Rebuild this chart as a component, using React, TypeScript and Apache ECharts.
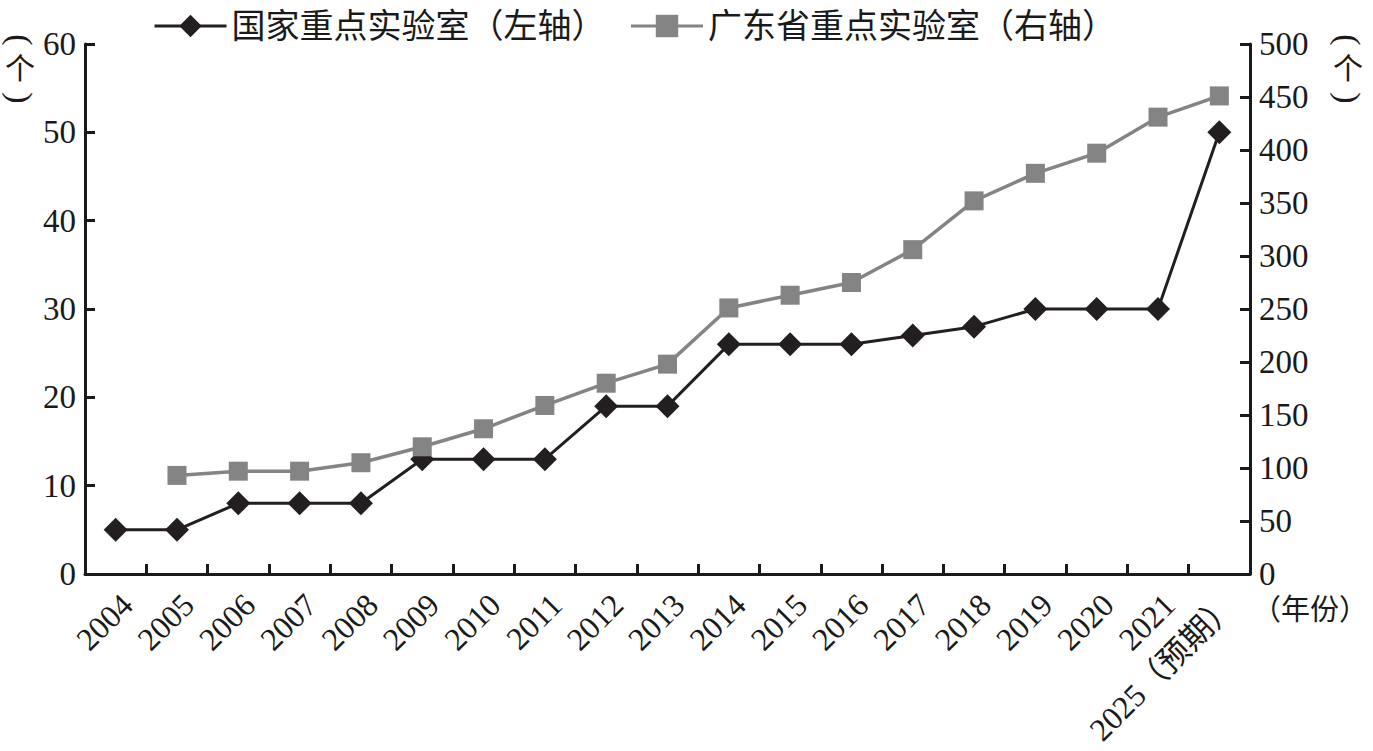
import React, { useEffect, useRef } from "react";
import * as echarts from "echarts";

const categories = ["2004","2005","2006","2007","2008","2009","2010","2011","2012","2013","2014","2015","2016","2017","2018","2019","2020","2021","2025（预期）"];
const nationalLabs = [5,5,8,8,8,13,13,13,19,19,26,26,26,27,28,30,30,30,50];
const guangdongLabs = [null,93,97,97,105,120,137,159,180,198,251,263,275,306,352,378,397,431,451];
const leftTicks = { min: 0, max: 60, interval: 10 };
const rightTicks = { min: 0, max: 500, interval: 50 };
const seriesNames = ["国家重点实验室（左轴）", "广东省重点实验室（右轴）"];

const SERIF = "'Liberation Serif', 'Times New Roman', 'Noto Sans CJK SC', serif";
const CJK = "'Liberation Serif', 'Noto Sans CJK SC', serif";

export default function App() {
  const ref = useRef<HTMLDivElement>(null);
  useEffect(() => {
    if (!ref.current) return;
    const chart = echarts.init(ref.current, undefined, { renderer: "svg" });
    const axisCommon = {
      axisLine: { show: true, lineStyle: { color: "#1a1a1a", width: 3 } },
      axisTick: { show: true, inside: true, length: 10, lineStyle: { color: "#1a1a1a", width: 3 } },
      splitLine: { show: false },
      axisLabel: { color: "#1a1a1a", fontSize: 33, fontFamily: SERIF, margin: 9 },
    };
    const parenStyle = { fontSize: 34, fill: "#1a1a1a", fontFamily: SERIF, align: "center", verticalAlign: "middle" };
    const charStyle = { fontSize: 30, fill: "#1a1a1a", fontFamily: "'Noto Sans CJK SC', serif", align: "center", verticalAlign: "middle" };
    const unitLabel = (cx: number) => [
      { type: "text", x: cx, y: 40, rotation: -Math.PI / 2, style: { text: "(", ...parenStyle } },
      { type: "text", x: cx, y: 66, style: { text: "个", ...charStyle } },
      { type: "text", x: cx, y: 98, rotation: -Math.PI / 2, style: { text: ")", ...parenStyle } },
    ];
    chart.setOption({
      animation: false,
      backgroundColor: "#ffffff",
      textStyle: { fontFamily: SERIF },
      legend: {
        left: 148,
        top: 4,
        itemWidth: 72,
        itemHeight: 28,
        itemGap: 24,
        lineStyle: { width: 3 },
        textStyle: { fontSize: 34, color: "#1a1a1a", fontFamily: CJK },
        data: seriesNames,
      },
      grid: { left: 85, right: 123, top: 44, bottom: 177 },
      xAxis: {
        type: "category",
        data: categories,
        boundaryGap: true,
        axisLine: { show: true, lineStyle: { color: "#1a1a1a", width: 3 } },
        axisTick: { show: true, inside: true, length: 10, alignWithLabel: false, interval: 0, lineStyle: { color: "#1a1a1a", width: 3 } },
        axisLabel: { color: "#1a1a1a", fontSize: 32, fontFamily: CJK, rotate: 45, interval: 0, margin: 14, verticalAlign: "top", align: "right" },
      },
      yAxis: [
        { type: "value", position: "left", ...leftTicks, ...axisCommon },
        { type: "value", position: "right", ...rightTicks, ...axisCommon },
      ],
      series: [
        {
          name: seriesNames[0],
          type: "line",
          yAxisIndex: 0,
          data: nationalLabs,
          symbol: "diamond",
          symbolSize: 24,
          itemStyle: { color: "#231f20" },
          lineStyle: { color: "#231f20", width: 3 },
        },
        {
          name: seriesNames[1],
          type: "line",
          yAxisIndex: 1,
          data: guangdongLabs,
          symbol: "rect",
          symbolSize: 19,
          itemStyle: { color: "#848484" },
          lineStyle: { color: "#848484", width: 3.5 },
          connectNulls: false,
        },
      ],
      graphic: [
        ...unitLabel(20),
        ...unitLabel(1348),
        {
          type: "text",
          left: 1252,
          top: 595,
          style: { text: "（年份）", fontSize: 29, fill: "#1a1a1a", fontFamily: CJK },
        },
      ],
    });
    return () => chart.dispose();
  }, []);
  return <div ref={ref} style={{ position: "fixed", left: 0, top: 0, width: 1373, height: 751 }} />;
}
